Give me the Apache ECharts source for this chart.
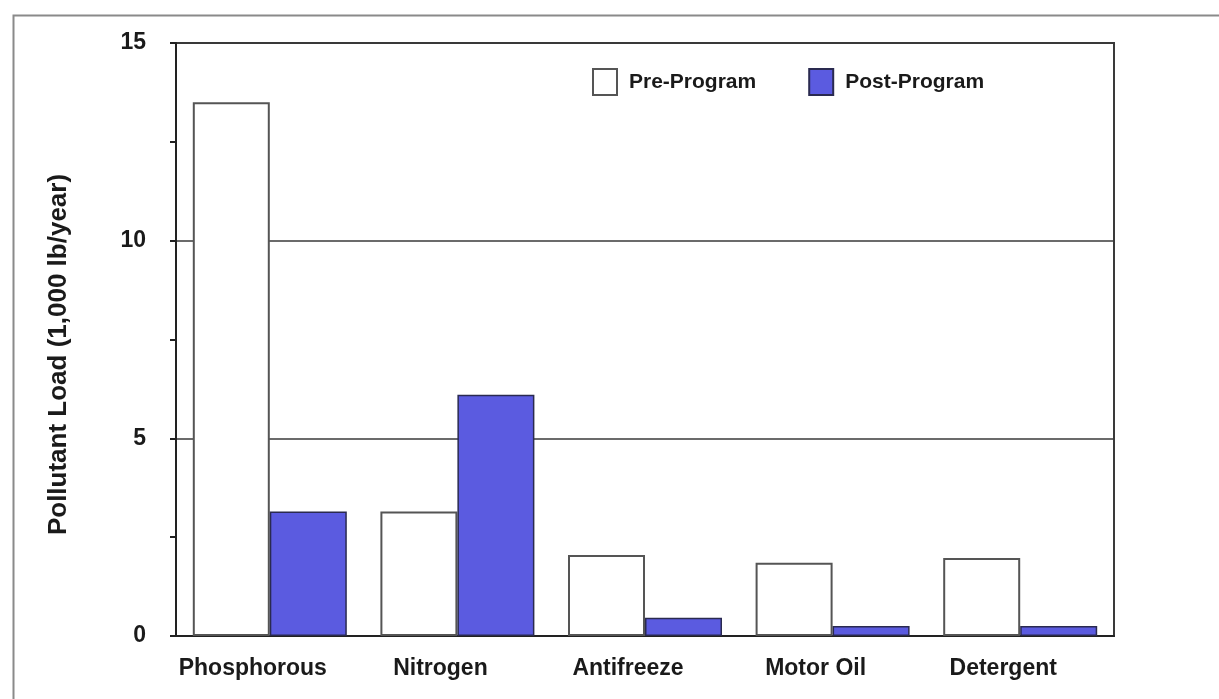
<!DOCTYPE html>
<html>
<head>
<meta charset="utf-8">
<script src="https://cdn.jsdelivr.net/npm/echarts@6/dist/echarts.min.js"></script>
<style>
  html, body { margin: 0; padding: 0; background: #fff; }
  #chart { width: 1219px; height: 699px; }
</style>
</head>
<body>
<div id="chart"></div>
<script>
// Pollutant loads before and after the program, in thousands of lb per year
const categories = ['Phosphorous', 'Nitrogen', 'Antifreeze', 'Motor Oil', 'Detergent'];
const preProgram = [13.5, 3.15, 2.05, 1.85, 1.97];
const postProgram = [3.15, 6.1, 0.46, 0.25, 0.25];
const seriesNames = ['Pre-Program', 'Post-Program'];
const axisTitle = 'Pollutant Load (1,000 lb/year)';

const FONT = '"Liberation Sans", Arial, sans-serif';
const chart = echarts.init(document.getElementById('chart'), null, { renderer: 'canvas' });

chart.setOption({
  animation: false,
  backgroundColor: '#fff',
  graphic: [{
    type: 'rect',
    left: 11, top: 13,
    shape: { width: 1300, height: 800 },
    style: { fill: 'none', stroke: '#8a8a8a', lineWidth: 2 },
    silent: true
  }],
  grid: {
    left: 176, right: 105, top: 43, bottom: 63,
    show: true, borderColor: '#3a3a3a', borderWidth: 2, backgroundColor: 'transparent'
  },
  legend: {
    left: 592, top: 68,
    padding: 0,
    icon: 'rect',
    itemWidth: 24, itemHeight: 26,
    itemGap: 52,
    data: seriesNames,
    textStyle: { fontFamily: FONT, fontWeight: 'bold', fontSize: 21, color: '#1a1a1a', padding: [0, 0, 0, 7] }
  },
  xAxis: {
    type: 'category',
    data: categories,
    axisLine: { lineStyle: { color: '#222', width: 2 } },
    axisTick: { show: false },
    axisLabel: {
      interval: 0,
      margin: 21, padding: [0, 34, 0, 0],
      fontFamily: FONT, fontWeight: 'bold', fontSize: 23, color: '#1a1a1a'
    }
  },
  yAxis: {
    type: 'value',
    min: 0, max: 15, interval: 5,
    name: axisTitle,
    nameLocation: 'middle',
    nameGap: 104,
    nameTextStyle: { fontFamily: FONT, fontWeight: 'bold', fontSize: 26, color: '#1a1a1a', padding: [0, 30, 0, 0] },
    axisLine: { show: true, lineStyle: { color: '#222', width: 2 } },
    axisTick: { show: true, length: 6, lineStyle: { color: '#222', width: 2 } },
    minorTick: { show: true, splitNumber: 2, length: 6, lineStyle: { color: '#222', width: 2 } },
    axisLabel: { margin: 30, fontFamily: FONT, fontWeight: 'bold', fontSize: 23, color: '#1a1a1a' },
    splitLine: { show: true, lineStyle: { color: '#3a3a3a', width: 1.5 } }
  },
  series: [
    {
      name: seriesNames[0],
      type: 'bar',
      data: preProgram,
      barWidth: 77,
      barGap: '0%',
      itemStyle: { color: '#ffffff', borderColor: '#555', borderWidth: 2 }
    },
    {
      name: seriesNames[1],
      type: 'bar',
      data: postProgram,
      barWidth: 77,
      barGap: '0%',
      itemStyle: { color: '#5b5be0', borderColor: '#2a2a50', borderWidth: 1.5 }
    }
  ]
});
</script>
</body>
</html>
